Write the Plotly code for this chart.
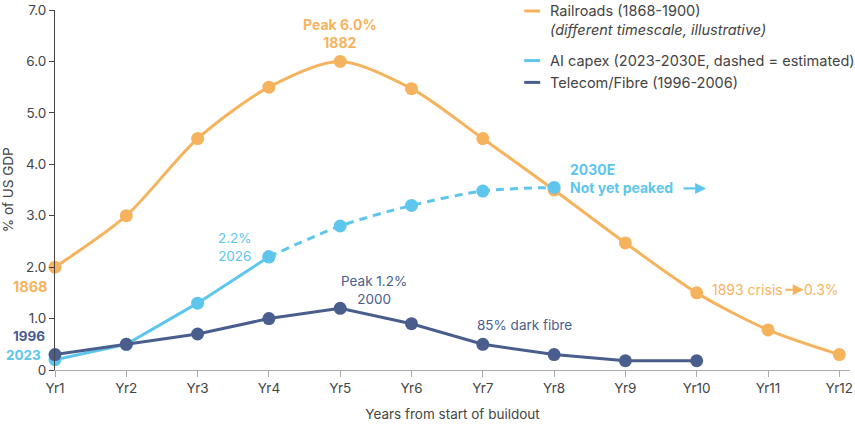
import plotly.graph_objects as go

# ---- data ----
years = ["Yr1", "Yr2", "Yr3", "Yr4", "Yr5", "Yr6", "Yr7", "Yr8", "Yr9", "Yr10", "Yr11", "Yr12"]
rail = [2.0, 3.0, 4.5, 5.5, 6.0, 5.47, 4.5, 3.5, 2.47, 1.5, 0.78, 0.3]
ai_years_actual = ["Yr1", "Yr2", "Yr3", "Yr4"]
ai_actual = [0.2, 0.5, 1.3, 2.2]
ai_years_est = ["Yr4", "Yr5", "Yr6", "Yr7", "Yr8"]
ai_est = [2.2, 2.8, 3.2, 3.48, 3.55]
tel_years = ["Yr1", "Yr2", "Yr3", "Yr4", "Yr5", "Yr6", "Yr7", "Yr8", "Yr9", "Yr10"]
tel = [0.3, 0.5, 0.7, 1.0, 1.2, 0.9, 0.5, 0.3, 0.18, 0.18]
ytick_vals = [0, 1, 2, 3, 4, 5, 6, 7]
ytick_text = ["0", "1.0", "2.0", "3.0", "4.0", "5.0", "6.0", "7.0"]

ORANGE = "#F6B35E"
BLUE = "#5EC6EC"
NAVY = "#4A5E8D"
TEXT = "#444444"
FONT = "Inter"

fig = go.Figure()
fig.add_trace(go.Scatter(x=years, y=rail, mode="lines+markers", name="Railroads (1868-1900)",
                         line=dict(color=ORANGE, width=3, shape="spline", smoothing=0.8),
                         marker=dict(size=13, color=ORANGE), cliponaxis=False, showlegend=False))
fig.add_trace(go.Scatter(x=ai_years_actual, y=ai_actual, mode="lines+markers", name="AI capex",
                         line=dict(color=BLUE, width=3),
                         marker=dict(size=13, color=BLUE), cliponaxis=False, showlegend=False))
fig.add_trace(go.Scatter(x=ai_years_est, y=ai_est, mode="lines+markers", name="AI capex (estimated)",
                         line=dict(color=BLUE, width=3, dash="8px,6px", shape="spline", smoothing=0.8),
                         marker=dict(size=13, color=BLUE), cliponaxis=False, showlegend=False))
fig.add_trace(go.Scatter(x=tel_years, y=tel, mode="lines+markers", name="Telecom/Fibre (1996-2006)",
                         line=dict(color=NAVY, width=3),
                         marker=dict(size=13, color=NAVY), cliponaxis=False, showlegend=False))

ann = []
def a(text, x, y, color, xanchor="center", xshift=0, bold=False, size=13.5, align="center",
      xref="x", yref="y", textangle=0):
    t = f"<b>{text}</b>" if bold else text
    ann.append(dict(text=t, x=x, y=y, xref=xref, yref=yref, xanchor=xanchor, yanchor="middle",
                    xshift=xshift, showarrow=False, align=align, textangle=textangle,
                    font=dict(family=FONT, size=size, color=color)))

def arrow(x, y, color, xshift, length):
    ann.append(dict(text="", x=x, y=y, xref="x", yref="y", xshift=xshift, showarrow=True,
                    ax=-length, ay=0, axref="pixel", ayref="pixel",
                    arrowhead=2, arrowsize=1, arrowwidth=2.2, arrowcolor=color))

def px_x(p):
    return (p - 55) / 798.0
def px_y(p):
    return (370 - p) / 363.0

a("Peak 6.0%<br>1882", "Yr5", 6.54, ORANGE, bold=True, size=14)
a("1868", "Yr1", 1.62, ORANGE, xanchor="right", xshift=-5, bold=True, size=14.5)
a("1996", "Yr1", 0.66, NAVY, xanchor="right", xshift=-8, bold=True, size=13.5)
a("2023", "Yr1", 0.3, BLUE, xanchor="right", xshift=-12, bold=True, size=13.5)
a("2.2%<br>2026", "Yr4", 2.39, BLUE, xshift=-34)
a("Peak 1.2%<br>2000", "Yr5", 1.56, NAVY, xshift=34)
a("85% dark fibre", "Yr7", 0.87, NAVY, xanchor="left", xshift=-8)
a("2030E<br>Not yet peaked", "Yr8", 3.72, BLUE, xanchor="left", xshift=14, bold=True, size=14,
  align="left")
arrow("Yr8", 3.53, BLUE, 152, 24)
a("1893 crisis", "Yr10", 1.56, ORANGE, xanchor="left", xshift=13, size=14)
arrow("Yr10", 1.56, ORANGE, 107, 20)
a("0.3%", "Yr10", 1.56, ORANGE, xanchor="right", xshift=144, size=14)

# y-axis title
a("% of US GDP", px_x(8), 0.5, TEXT, xref="paper", yref="paper", textangle=-90, size=13.5)

# manual legend (paper coordinates)
legend_items = [
    ("Railroads (1868-1900)", ORANGE, 8),
    ("AI capex (2023-2030E, dashed = estimated)", BLUE, 58),
    ("Telecom/Fibre (1996-2006)", NAVY, 80),
]
shapes = []
for label, col, ypx in legend_items:
    shapes.append(dict(type="line", xref="paper", yref="paper", x0=px_x(526), x1=px_x(542),
                       y0=px_y(ypx), y1=px_y(ypx), line=dict(color=col, width=3)))
    a(label, px_x(550), px_y(ypx), TEXT, xanchor="left", xref="paper", yref="paper", align="left",
      size=14.5)
a("<i>(different timescale, illustrative)</i>", px_x(550), px_y(27), TEXT, xanchor="left",
  xref="paper", yref="paper", align="left", size=14.5)

fig.update_layout(
    width=855, height=426,
    margin=dict(l=55, r=2, t=7, b=56),
    paper_bgcolor="white", plot_bgcolor="white",
    font=dict(family=FONT, size=13.5, color=TEXT),
    annotations=ann, shapes=shapes, showlegend=False,
)
fig.update_xaxes(type="category", categoryorder="array", categoryarray=years,
                 range=[0, 11.15], showgrid=False, zeroline=False,
                 showline=True, linecolor="#aaaaaa", linewidth=1,
                 ticks="outside", ticklen=6, tickcolor="#aaaaaa",
                 tickfont=dict(family=FONT, size=13.5, color=TEXT),
                 title=dict(text="Years from start of buildout",
                            font=dict(family=FONT, size=13.5, color=TEXT), standoff=14))
fig.update_yaxes(range=[0, 7.0], tickvals=ytick_vals, ticktext=ytick_text,
                 ticklabeloverflow="allow",
                 showgrid=False, zeroline=False,
                 showline=True, linecolor=TEXT, linewidth=1,
                 ticks="outside", ticklen=5, tickcolor=TEXT,
                 tickfont=dict(family=FONT, size=13.5, color=TEXT))

fig.write_html("out.html")
